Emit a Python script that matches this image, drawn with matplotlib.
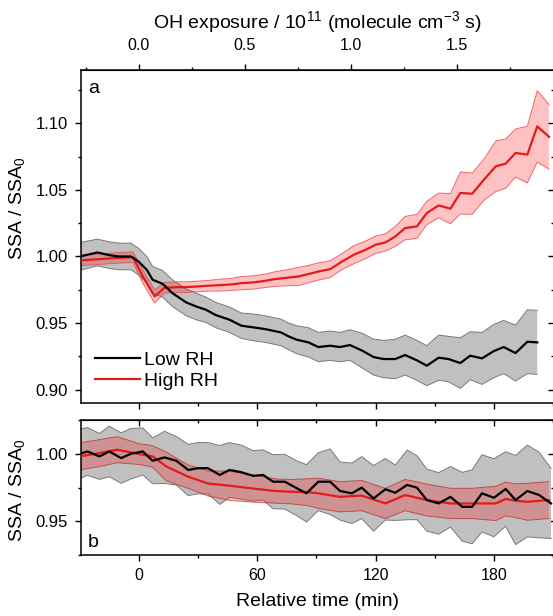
import numpy as np
import matplotlib.pyplot as plt
from matplotlib.ticker import MultipleLocator, FixedLocator, FormatStrFormatter

plt.rcParams['font.family'] = ['Liberation Sans', 'DejaVu Sans']
plt.rcParams['mathtext.fontset'] = 'custom'
plt.rcParams['mathtext.rm'] = 'Liberation Sans'
plt.rcParams['mathtext.it'] = 'Liberation Sans:italic'

# ---- panel a: SSA/SSA0 vs time ----
t_low_a = [-30, -21, -15, -10, -4, 0, 4, 7, 12, 17, 24, 29, 34, 39, 46, 52, 57, 64, 72, 76,
           80, 86, 91, 97, 102, 107, 113, 119, 124, 130, 135, 141, 146, 152, 157, 163, 168,
           174, 180, 185, 191, 197, 202]
low_a = [1.000, 1.003, 1.001, 1.000, 1.000, 0.996, 0.990, 0.9825, 0.9795, 0.9725,
         0.9655, 0.9625, 0.960, 0.956, 0.9525, 0.948, 0.947, 0.9455, 0.943, 0.940,
         0.9375, 0.9355, 0.932, 0.933, 0.932, 0.9335, 0.9295, 0.9245, 0.923, 0.923,
         0.926, 0.922, 0.918, 0.924, 0.923, 0.920, 0.9255, 0.9235, 0.929, 0.932,
         0.9275, 0.936, 0.9355]
low_a_err = [0.0105, 0.010, 0.010, 0.010, 0.010, 0.010, 0.010, 0.010, 0.010, 0.010,
             0.010, 0.010, 0.0095, 0.0095, 0.0095, 0.0095, 0.010, 0.010, 0.010, 0.010,
             0.0105, 0.011, 0.011, 0.011, 0.011, 0.0115, 0.013, 0.0135, 0.014, 0.0148,
             0.015, 0.015, 0.015, 0.017, 0.017, 0.019, 0.018, 0.0195, 0.020, 0.020,
             0.021, 0.024, 0.024]

t_high_a = [-30, -20, -10, -3, 2, 8, 13, 19, 24, 30, 35, 41, 47, 52, 58, 63, 69, 75, 81, 86,
            91, 97, 103, 109, 115, 120, 125, 130, 135, 141, 146, 152, 158, 163, 169, 175,
            181, 186, 191, 197, 202, 208]
high_a = [0.997, 0.998, 0.999, 0.9995, 0.985, 0.970, 0.9765, 0.977, 0.977, 0.9775,
          0.978, 0.9785, 0.979, 0.980, 0.9805, 0.9815, 0.983, 0.984, 0.985, 0.9868,
          0.9887, 0.9905, 0.9962, 1.0013, 1.005, 1.0088, 1.0105, 1.015, 1.0213, 1.0226,
          1.0326, 1.0383, 1.0359, 1.0477, 1.0471, 1.0577, 1.0677, 1.0697, 1.0777, 1.0765,
          1.0977, 1.0898]
high_a_err = [0.004, 0.004, 0.004, 0.004, 0.005, 0.005, 0.004, 0.004, 0.004, 0.004,
              0.004, 0.0045, 0.0045, 0.005, 0.005, 0.005, 0.0055, 0.006, 0.0068, 0.0065,
              0.0065, 0.0063, 0.006, 0.0068, 0.0066, 0.0065, 0.0065, 0.0075, 0.0088, 0.009,
              0.0088, 0.0093, 0.0113, 0.0158, 0.0155, 0.0155, 0.019, 0.0185, 0.018, 0.0213,
              0.0268, 0.0243]

# ---- panel b ----
t_low_b = [-30, -26, -20, -15, -9, -4, 2, 7, 13, 19, 25, 30, 35, 41, 46, 52, 58, 63, 68, 74,
           80, 85, 91, 97, 102, 108, 113, 119, 125, 130, 136, 141, 146, 152, 158, 164, 169,
           174, 180, 186, 191, 197, 203, 209]
low_b = [1.000, 1.0017, 0.998, 1.0017, 0.9968, 1.000, 1.0017, 0.9948, 0.9973, 0.9948,
         0.988, 0.9893, 0.9893, 0.9843, 0.988, 0.9863, 0.9836, 0.9843, 0.9793, 0.9793,
         0.9745, 0.9707, 0.9793, 0.9793, 0.9724, 0.9707, 0.9749, 0.9669, 0.9737, 0.9711,
         0.9769, 0.9749, 0.9657, 0.9632, 0.9681, 0.9607, 0.9607, 0.9707, 0.9674, 0.9739,
         0.9657, 0.9724, 0.9694, 0.9632]
low_b_err = [0.0184, 0.0177, 0.017, 0.0187, 0.0187, 0.0187, 0.0174, 0.017, 0.0193, 0.018,
             0.019, 0.019, 0.019, 0.0218, 0.0203, 0.020, 0.0187, 0.0186, 0.020, 0.0203,
             0.0203, 0.0212, 0.0214, 0.0243, 0.0215, 0.0224, 0.023, 0.0243, 0.0228, 0.0205,
             0.0258, 0.0237, 0.023, 0.0228, 0.0224, 0.0255, 0.0274, 0.0286, 0.0289, 0.0276,
             0.033, 0.034, 0.0317, 0.026]

t_high_b = [-30, -20, -11, 0, 7, 14, 25, 35, 46, 57, 69, 77, 86, 91, 102, 113, 125, 135,
            146, 158, 169, 181, 186, 191, 197, 208]
high_b = [0.998, 1.0005, 1.003, 0.9998, 0.998, 0.9905, 0.983, 0.978, 0.9763, 0.9744,
          0.9724, 0.9719, 0.9715, 0.9707, 0.9681, 0.969, 0.9632, 0.9694, 0.9657, 0.9632,
          0.9632, 0.9632, 0.9665, 0.9652, 0.9644, 0.9657]
high_b_err = [0.010, 0.010, 0.0097, 0.0077, 0.008, 0.0106, 0.0087, 0.0093, 0.0108, 0.0102,
              0.009, 0.009, 0.010, 0.0112, 0.0112, 0.0112, 0.0112, 0.0116, 0.0118, 0.0112,
              0.0112, 0.0127, 0.0125, 0.0125, 0.0137, 0.0137]

# OH exposure axis: 10^11 molecule cm-3 s per minute of reaction
OH_PER_MIN = 0.00931
oh_ticks = [0.0, 0.5, 1.0, 1.5]

W, H = 553, 616
fig = plt.figure(figsize=(W / 100, H / 100), dpi=100)


def px_box(l, t, r, b):
    return [l / W, 1 - b / H, (r - l) / W, (b - t) / H]


ax_a = fig.add_axes(px_box(80.7, 70, 554, 403))
ax_b = fig.add_axes(px_box(80.7, 420, 554, 555))

GREY = '#c0c0c0'
GREY_EDGE = '#7a7a7a'
RED = '#e31a1a'


def band(ax, t, y, err, face, edge, z):
    t = np.array(t)
    y = np.array(y)
    e = np.array(err)
    ax.fill_between(t, y - e, y + e, facecolor=face, edgecolor='none', zorder=z)
    ax.plot(t, y + e, color=edge, lw=0.7, zorder=z + 0.1)
    ax.plot(t, y - e, color=edge, lw=0.7, zorder=z + 0.1)


band(ax_a, t_low_a, low_a, low_a_err, GREY, GREY_EDGE, 1)
band(ax_a, t_high_a, high_a, high_a_err, (1, 0, 0, 0.24), (0.9, 0.3, 0.3, 0.8), 2)
ax_a.plot(t_high_a, high_a, color=RED, lw=1.6, zorder=4, label='High RH')
ax_a.plot(t_low_a, low_a, color='black', lw=1.6, zorder=5, label='Low RH')

band(ax_b, t_low_b, low_b, low_b_err, GREY, GREY_EDGE, 1)
band(ax_b, t_high_b, high_b, high_b_err, (1, 0, 0, 0.24), (0.75, 0.15, 0.15, 0.7), 2)
ax_b.plot(t_high_b, high_b, color=RED, lw=1.6, zorder=4)
ax_b.plot(t_low_b, low_b, color='black', lw=1.6, zorder=5)

for ax in (ax_a, ax_b):
    ax.set_xlim(-29.5, 210.5)
    ax.xaxis.set_major_locator(MultipleLocator(60))
    ax.xaxis.set_minor_locator(MultipleLocator(30))
    ax.yaxis.set_major_locator(MultipleLocator(0.05))
    ax.yaxis.set_minor_locator(MultipleLocator(0.025))
    ax.yaxis.set_major_formatter(FormatStrFormatter('%.2f'))
    ax.tick_params(which='both', direction='out', width=1.0, labelsize=11.5, pad=5)
    ax.tick_params(axis='y', labelsize=12)
    ax.tick_params(which='major', length=4.5)
    ax.tick_params(which='minor', length=2.5)
    for s in ax.spines.values():
        s.set_linewidth(1.1)
    right = ax.secondary_yaxis('right')
    right.yaxis.set_major_locator(MultipleLocator(0.05))
    right.yaxis.set_minor_locator(MultipleLocator(0.025))
    right.tick_params(which='both', direction='in', width=1.0, labelright=False)
    right.tick_params(which='major', length=4.5)
    right.tick_params(which='minor', length=2.5)
    ax.set_ylabel('SSA / SSA$_0$', fontsize=14)

ax_a.set_ylim(0.89, 1.14)
ax_b.set_ylim(0.925, 1.025)
ax_a.tick_params(axis='x', labelbottom=False)

top = ax_a.secondary_xaxis('top', functions=(lambda t: t * OH_PER_MIN,
                                             lambda e: e / OH_PER_MIN))
top.xaxis.set_major_locator(FixedLocator(oh_ticks))
top.xaxis.set_minor_locator(FixedLocator([-0.25, 0.25, 0.75, 1.25, 1.75]))
top.xaxis.set_major_formatter(FormatStrFormatter('%.1f'))
top.tick_params(which='both', direction='out', width=1.0, labelsize=11.5, pad=8)
top.tick_params(which='major', length=4.5)
top.tick_params(which='minor', length=2.5)
fig.text(317 / W, 1 - 22 / H, 'OH exposure / 10$^{11}$ (molecule cm$^{-3}$ s)',
         fontsize=14, ha='center', va='center')

topb = ax_b.secondary_xaxis('top')
topb.xaxis.set_major_locator(MultipleLocator(60))
topb.xaxis.set_minor_locator(MultipleLocator(30))
topb.tick_params(which='both', direction='in', width=1.0, labeltop=False)
topb.tick_params(which='major', length=4.5)
topb.tick_params(which='minor', length=2.5)

ax_b.set_xlabel('Relative time (min)', fontsize=14)
ax_b.xaxis.set_label_coords(0.5, -0.285)
ax_a.yaxis.set_label_coords(-0.113, 0.5856)
ax_b.yaxis.set_label_coords(-0.113, 0.481)

ax_a.text(0.0154, 0.930, 'a', transform=ax_a.transAxes, fontsize=14, va='baseline')
ax_b.text(0.0154, 0.059, 'b', transform=ax_b.transAxes, fontsize=14, va='baseline')

handles, labels = ax_a.get_legend_handles_labels()
ax_a.legend(handles[::-1], labels[::-1], loc='lower left', bbox_to_anchor=(0.0134, 0.015),
            borderaxespad=0, frameon=False, fontsize=14, handlelength=2.3,
            handletextpad=0.25, labelspacing=0.2)

fig.savefig('out.png', dpi=100)
